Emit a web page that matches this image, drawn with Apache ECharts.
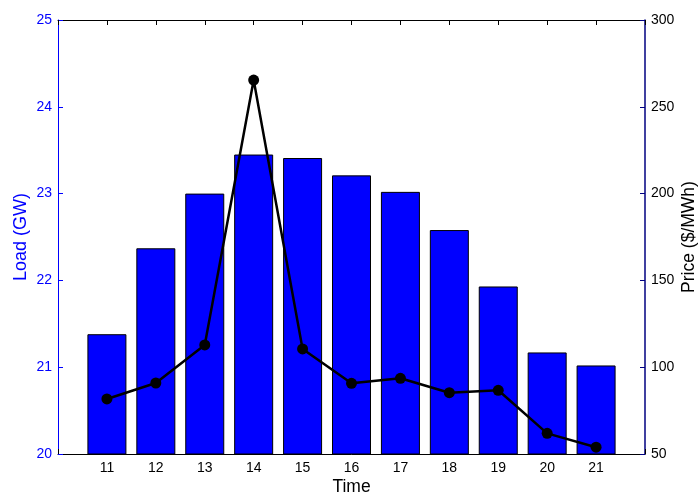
<!DOCTYPE html>
<html>
<head>
<meta charset="utf-8">
<script src="https://cdn.jsdelivr.net/npm/echarts@6/dist/echarts.min.js"></script>
<style>html,body{margin:0;padding:0;background:#fff;overflow:hidden}#c{width:699px;height:494px}</style>
</head>
<body>
<div id="c"></div>
<script>
var hours = [11, 12, 13, 14, 15, 16, 17, 18, 19, 20, 21];
var loadGW = [21.38, 22.37, 23.00, 23.45, 23.41, 23.21, 23.02, 22.58, 21.93, 21.17, 21.02];
var priceUSD = [81.7, 90.9, 112.8, 265.4, 110.5, 90.7, 93.6, 85.3, 86.7, 61.9, 53.9];
var loadTicks = [20, 21, 22, 23, 24, 25];
var priceTicks = [50, 100, 150, 200, 250, 300];

var chart = echarts.init(document.getElementById('c'), null, {renderer: 'canvas'});
var font = 'Liberation Sans, Arial, sans-serif';
var barData = hours.map(function (h, i) { return [h, loadGW[i]]; });
var lineData = hours.map(function (h, i) { return [h, priceUSD[i]]; });

chart.setOption({
  animation: false,
  backgroundColor: '#fff',
  grid: {left: 58, right: 54, top: 20, bottom: 40, containLabel: false, outerBoundsMode: 'none'},
  xAxis: [{
    type: 'value', min: 10, max: 22, interval: 1, position: 'bottom',
    name: 'Time', nameLocation: 'middle', nameGap: 24, nameMoveOverlap: false,
    nameTextStyle: {color: '#000', fontFamily: font, fontSize: 17.5},
    axisLine: {lineStyle: {color: '#000', width: 1}},
    axisTick: {inside: true, length: 5, lineStyle: {color: '#000'}},
    axisLabel: {color: '#000', fontFamily: font, fontSize: 14, margin: 7,
      formatter: function (v) { return hours.indexOf(v) >= 0 ? String(v) : ''; }},
    splitLine: {show: false}
  }, {
    type: 'value', min: 10, max: 22, interval: 1, position: 'top',
    axisLine: {lineStyle: {color: '#000', width: 1}},
    axisTick: {inside: true, length: 5, lineStyle: {color: '#000'}},
    axisLabel: {show: false},
    splitLine: {show: false}
  }],
  yAxis: [{
    type: 'value', min: loadTicks[0], max: loadTicks[loadTicks.length - 1], interval: 1, position: 'left',
    name: 'Load (GW)', nameLocation: 'middle', nameGap: 28, nameRotate: 90, nameMoveOverlap: false,
    nameTextStyle: {color: '#0000ff', fontFamily: font, fontSize: 18},
    axisLine: {show: true, lineStyle: {color: '#0000ff', width: 1}},
    axisTick: {show: true, inside: true, length: 5, lineStyle: {color: '#0000ff'}},
    axisLabel: {color: '#0000ff', fontFamily: font, fontSize: 14, margin: 6},
    splitLine: {show: false}
  }, {
    type: 'value', min: priceTicks[0], max: priceTicks[priceTicks.length - 1], interval: 50, position: 'right',
    name: 'Price ($/MWh)', nameLocation: 'middle', nameGap: 35, nameRotate: 90, nameMoveOverlap: false,
    nameTextStyle: {color: '#000', fontFamily: font, fontSize: 17.5},
    axisLine: {show: true, lineStyle: {color: '#000080', width: 1.5}},
    axisTick: {show: true, inside: true, length: 5, lineStyle: {color: '#000080'}},
    axisLabel: {color: '#000', fontFamily: font, fontSize: 14, margin: 6},
    splitLine: {show: false}
  }],
  series: [{
    type: 'bar', xAxisIndex: 0, yAxisIndex: 0, data: barData, barWidth: 39,
    itemStyle: {color: '#0000ff', borderColor: '#000', borderWidth: 1},
    z: 2
  }, {
    type: 'line', xAxisIndex: 0, yAxisIndex: 1, data: lineData,
    symbol: 'circle', symbolSize: 11,
    lineStyle: {color: '#000', width: 2.5},
    itemStyle: {color: '#000'},
    z: 3
  }]
});
</script>
</body>
</html>
